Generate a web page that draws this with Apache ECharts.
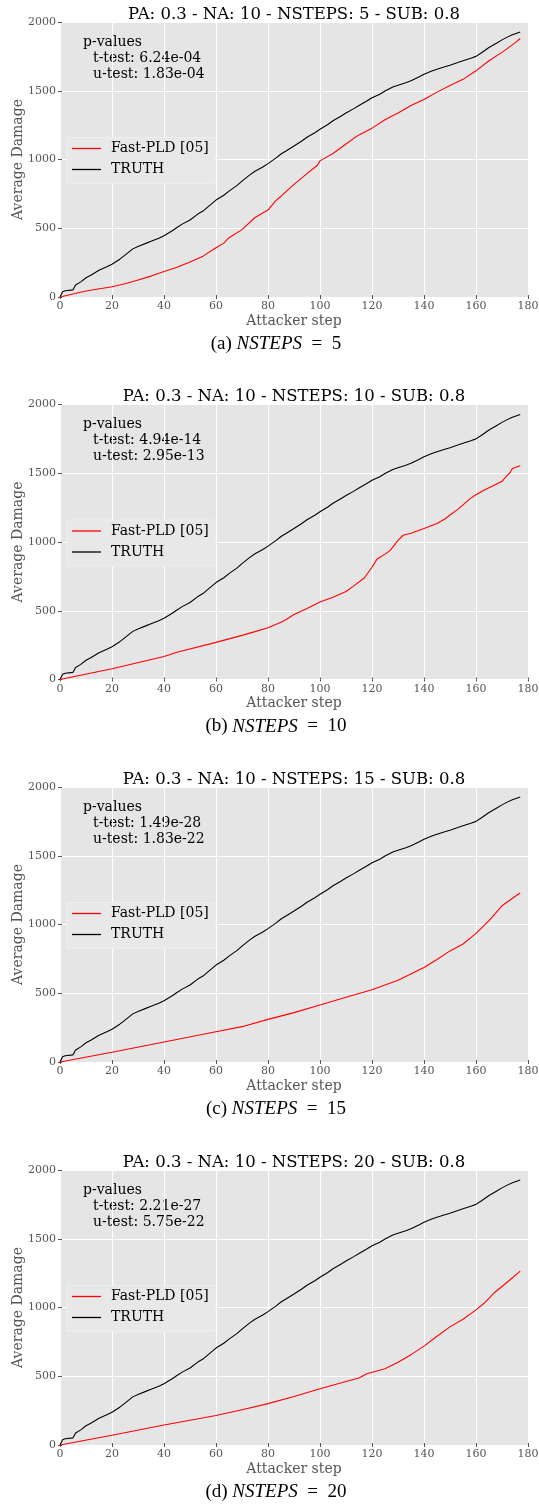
<!DOCTYPE html>
<html>
<head>
<meta charset="utf-8">
<script src="https://cdn.jsdelivr.net/npm/echarts@6/dist/echarts.min.js"></script>
<style>
  html, body { margin: 0; padding: 0; background: #ffffff; }
  #chart { width: 539px; height: 1509px; }
</style>
</head>
<body>
<div id="chart"></div>
<script>
// Shared x ticks / y ticks
const xTicks = [0, 20, 40, 60, 80, 100, 120, 140, 160, 180];
const yTicks = [0, 500, 1000, 1500, 2000];

// Ground-truth damage curve (same in every panel)
const truthSteps = [0, 1, 2, 5, 6, 8, 10, 12, 15, 18, 20, 23, 25, 28, 30, 33, 35, 38, 40, 43, 45, 47, 50, 53, 55, 57, 60, 63, 65, 68, 70, 73, 75, 78, 80, 83, 85, 88, 90, 93, 95, 98, 100, 103, 105, 108, 110, 113, 115, 118, 120, 123, 125, 128, 130, 133, 135, 138, 140, 143, 145, 148, 150, 153, 155, 158, 160, 162, 165, 168, 170, 172, 174, 177];
const truthDamage = [0, 38, 45, 52, 88, 110, 140, 160, 195, 220, 238, 275, 305, 350, 368, 390, 405, 428, 446, 480, 505, 530, 560, 603, 625, 657, 705, 740, 770, 810, 843, 888, 915, 945, 970, 1010, 1040, 1075, 1098, 1135, 1162, 1195, 1220, 1255, 1282, 1315, 1338, 1370, 1392, 1425, 1449, 1475, 1498, 1528, 1540, 1558, 1572, 1600, 1620, 1643, 1657, 1675, 1686, 1705, 1718, 1737, 1750, 1775, 1815, 1848, 1870, 1890, 1908, 1928];

// Fast-PLD [05] estimates, one curve per NSTEPS value
const pld5Steps = [0, 10, 20, 25, 30, 35, 40, 45, 50, 55, 60, 63, 65, 70, 75, 80, 83, 85, 90, 95, 99, 100, 105, 110, 113, 115, 120, 125, 130, 135, 140, 145, 150, 155, 160, 165, 170, 175, 177];
const pld5Damage = [0, 44, 74, 96, 123, 152, 186, 216, 255, 297, 358, 392, 431, 490, 578, 632, 701, 733, 819, 897, 958, 990, 1044, 1113, 1154, 1179, 1228, 1289, 1338, 1392, 1436, 1490, 1539, 1583, 1645, 1718, 1779, 1848, 1880];

const pld10Steps = [0, 20, 40, 45, 60, 70, 75, 80, 85, 87, 90, 95, 100, 105, 110, 113, 117, 120, 122, 125, 127, 130, 132, 135, 140, 145, 148, 150, 153, 155, 158, 160, 163, 167, 170, 172, 173, 174, 177];
const pld10Damage = [0, 78, 167, 198, 270, 321, 348, 377, 417, 436, 473, 517, 564, 598, 640, 681, 738, 816, 877, 912, 939, 1012, 1049, 1064, 1098, 1135, 1167, 1196, 1237, 1270, 1319, 1343, 1377, 1412, 1441, 1485, 1502, 1534, 1555];

const pld15Steps = [0, 20, 40, 60, 70, 80, 90, 100, 110, 120, 130, 140, 145, 150, 155, 160, 165, 170, 175, 177];
const pld15Damage = [0, 71, 146, 220, 257, 310, 359, 415, 471, 526, 594, 687, 746, 808, 858, 935, 1028, 1136, 1204, 1229];

const pld20Steps = [0, 20, 40, 60, 70, 80, 90, 100, 110, 115, 118, 125, 130, 135, 140, 145, 150, 155, 160, 163, 167, 170, 173, 177];
const pld20Damage = [0, 71, 146, 214, 257, 301, 353, 409, 462, 487, 518, 555, 602, 657, 719, 791, 859, 915, 983, 1029, 1107, 1153, 1200, 1265];

// Panel texts
const nstepsValues = [5, 10, 15, 20];
const panelLetters = ['a', 'b', 'c', 'd'];
const tTestValues = ['6.24e-04', '4.94e-14', '1.49e-28', '2.21e-27'];
const uTestValues = ['1.83e-04', '2.95e-13', '1.83e-22', '5.75e-22'];
const pldCurves = [
  [pld5Steps, pld5Damage],
  [pld10Steps, pld10Damage],
  [pld15Steps, pld15Damage],
  [pld20Steps, pld20Damage]
];

const SERIF = '"DejaVu Serif", serif';
const TIMES = '"Liberation Serif", "Times New Roman", serif';
const GREY = '#555555';

const pairs = (xs, ys) => xs.map((x, i) => [x, ys[i]]);

const plotLeft = 60, plotWidth = 468, plotHeight = 275;
const panelTops = [22, 404.5, 787, 1170];

const grids = [], xAxes = [], yAxes = [], series = [], legends = [], graphics = [];

panelTops.forEach((top, p) => {
  grids.push({
    left: plotLeft, top: top, width: plotWidth, height: plotHeight,
    containLabel: false, outerBoundsMode: 'none',
    show: true, backgroundColor: '#e5e5e5', borderWidth: 0
  });
  const xBase = {
    gridIndex: p, type: 'value', min: 0, max: 180, interval: 20,
    axisLine: { show: false },
    axisTick: { show: true, length: 2, lineStyle: { color: GREY, width: 1 } },
    splitLine: { show: false }
  };
  xAxes.push(Object.assign({}, xBase, {
    position: 'bottom',
    splitLine: { show: true, lineStyle: { color: '#ffffff', width: 1 } },
    axisLabel: { color: GREY, fontFamily: SERIF, fontSize: 11, margin: 4, formatter: v => String(v) },
    name: 'Attacker step', nameLocation: 'middle', nameGap: 17, nameMoveOverlap: false,
    nameTextStyle: { color: GREY, fontFamily: SERIF, fontSize: 14 }
  }));
  xAxes.push(Object.assign({}, xBase, { position: 'top', axisLabel: { show: false } }));

  const yBase = {
    gridIndex: p, type: 'value', min: 0, max: 2000, interval: 500,
    axisLine: { show: false },
    axisTick: { show: true, length: 2, lineStyle: { color: GREY, width: 1 } },
    splitLine: { show: false }
  };
  yAxes.push(Object.assign({}, yBase, {
    position: 'left',
    splitLine: { show: true, lineStyle: { color: '#ffffff', width: 1 } },
    axisLabel: { color: GREY, fontFamily: SERIF, fontSize: 11, margin: 4, formatter: v => String(v) },
    name: 'Average Damage', nameLocation: 'middle', nameGap: 35, nameRotate: 90, nameMoveOverlap: false,
    nameTextStyle: { color: GREY, fontFamily: SERIF, fontSize: 14 }
  }));
  yAxes.push(Object.assign({}, yBase, { position: 'right', axisLabel: { show: false } }));

  series.push({
    name: 'Fast-PLD [05]', type: 'line', xAxisIndex: 2 * p, yAxisIndex: 2 * p,
    data: pairs(pldCurves[p][0], pldCurves[p][1]),
    symbol: 'none', smooth: false,
    lineStyle: { color: '#ff0000', width: 1.1 }, itemStyle: { color: '#ff0000' }, z: 3
  });
  series.push({
    name: 'TRUTH', type: 'line', xAxisIndex: 2 * p, yAxisIndex: 2 * p,
    data: pairs(truthSteps, truthDamage),
    symbol: 'none', smooth: false,
    lineStyle: { color: '#000000', width: 1.1 }, itemStyle: { color: '#000000' }, z: 2
  });

  legends.push({
    orient: 'vertical', left: 67, top: top + 115.5,
    data: ['Fast-PLD [05]', 'TRUTH'],
    icon: 'rect', itemWidth: 29, itemHeight: 1.3, itemGap: 5,
    padding: [3, 6, 6, 5],
    backgroundColor: '#e8e8e8', borderColor: '#eeeeee', borderWidth: 1,
    selectedMode: false,
    textStyle: { color: '#000000', fontFamily: SERIF, fontSize: 14, lineHeight: 16, padding: [0, 0, 0, 5] }
  });

  // panel title
  graphics.push({
    type: 'text', x: plotLeft + plotWidth / 2, y: top - 7.5,
    style: {
      text: 'PA: 0.3 - NA: 10 - NSTEPS: ' + nstepsValues[p] + ' - SUB: 0.8',
      font: '16.5px ' + SERIF, fill: '#000000', align: 'center', verticalAlign: 'middle'
    }
  });
  // p-value annotation
  const annot = [
    ['p-values', 83, 20],
    ['t-test: ' + tTestValues[p], 93, 36],
    ['u-test: ' + uTestValues[p], 93, 52]
  ];
  annot.forEach(([txt, x, dy]) => {
    graphics.push({
      type: 'text', x: x, y: top + dy,
      style: { text: txt, font: '14px ' + SERIF, fill: '#000000', align: 'left', verticalAlign: 'middle' }
    });
  });
  // sub-figure caption
  graphics.push({
    type: 'text', x: 276, y: top + plotHeight + 47,
    style: {
      text: '{n|(' + panelLetters[p] + ') }{i|NSTEPS}{n|  =  ' + nstepsValues[p] + '}',
      align: 'center', verticalAlign: 'middle',
      rich: {
        n: { fontFamily: TIMES, fontSize: 19, fill: '#000000', fontStyle: 'normal' },
        i: { fontFamily: TIMES, fontSize: 19, fill: '#000000', fontStyle: 'italic' }
      }
    }
  });
});

const chart = echarts.init(document.getElementById('chart'), null, { renderer: 'canvas' });
chart.setOption({
  animation: false,
  backgroundColor: '#ffffff',
  grid: grids,
  xAxis: xAxes,
  yAxis: yAxes,
  legend: legends,
  series: series,
  graphic: graphics
});
</script>
</body>
</html>
